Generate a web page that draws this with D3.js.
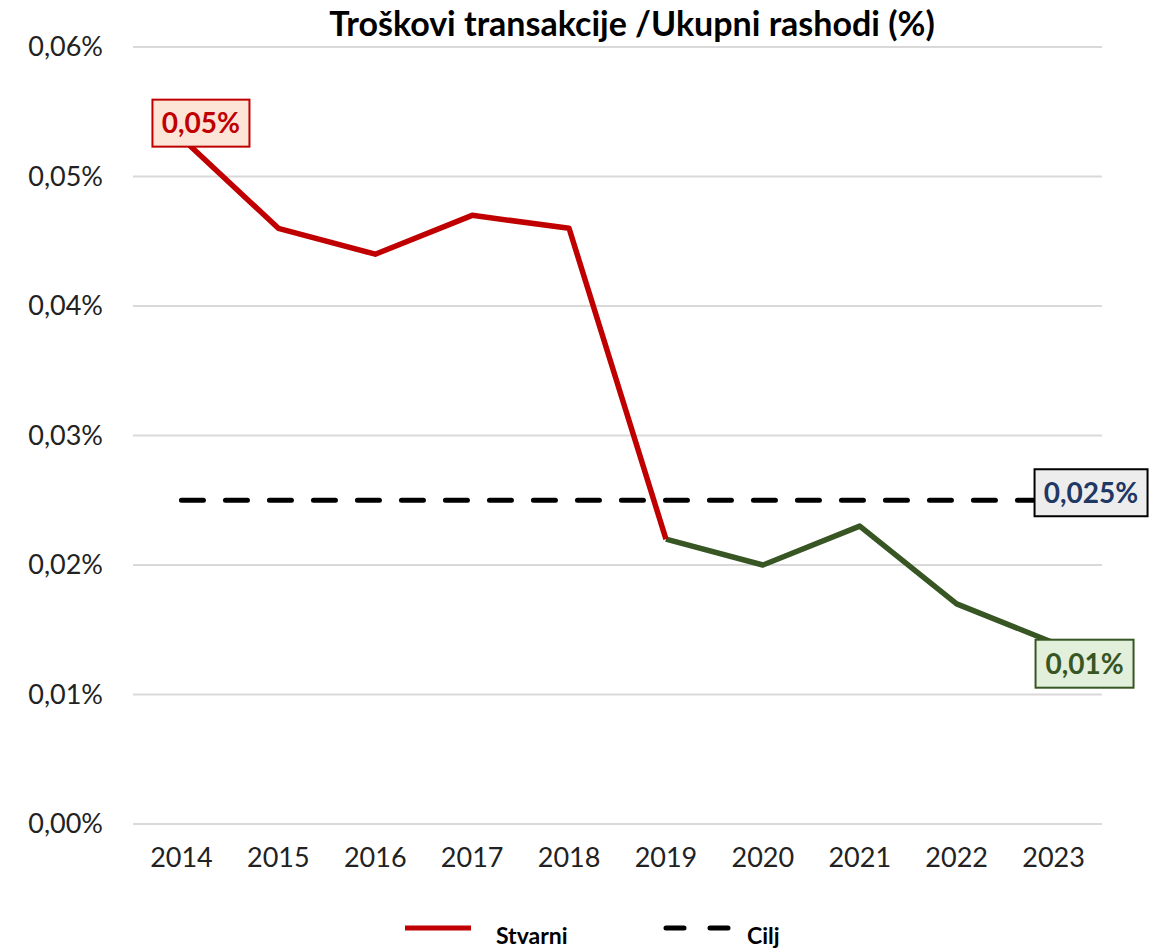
<!DOCTYPE html>
<html>
<head>
<meta charset="utf-8">
<script src="https://cdn.jsdelivr.net/npm/d3@7"></script>
<style>
  body { margin: 0; background: #fff; }
  text { font-family: Lato, "Open Sans", sans-serif; }
</style>
</head>
<body>
<div id="chart"></div>
<script>
var years = ['2014', '2015', '2016', '2017', '2018', '2019', '2020', '2021', '2022', '2023'];
var actual = [0.053, 0.046, 0.044, 0.047, 0.046, 0.022, 0.020, 0.023, 0.017, 0.014];
var target = [0.025, 0.025, 0.025, 0.025, 0.025, 0.025, 0.025, 0.025, 0.025, 0.025];
var yTicks = [0, 0.01, 0.02, 0.03, 0.04, 0.05, 0.06];
var splitIndex = 5; // red up to 2019, green after

var width = 1170, height = 949;
var margin = { top: 47, right: 68, bottom: 125, left: 133 };

var svg = d3.select('#chart').append('svg')
  .attr('width', width)
  .attr('height', height);

var x = d3.scaleBand()
  .domain(years)
  .range([margin.left, width - margin.right]);

var y = d3.scaleLinear()
  .domain([0, 0.06])
  .range([height - margin.bottom, margin.top]);

var fmt = function (d, digits) {
  return d.toFixed(digits).replace('.', ',') + '%';
};

// grid
svg.append('g')
  .selectAll('line')
  .data(yTicks)
  .enter().append('line')
  .attr('x1', margin.left)
  .attr('x2', width - margin.right)
  .attr('y1', function (d) { return y(d); })
  .attr('y2', function (d) { return y(d); })
  .attr('stroke', '#d9d9d9')
  .attr('stroke-width', 2);

// y axis
var gy = svg.append('g')
  .attr('transform', 'translate(' + margin.left + ',0)')
  .call(d3.axisLeft(y).tickValues(yTicks).tickSize(0).tickPadding(30)
    .tickFormat(function (d) { return fmt(d, 2); }));
gy.select('.domain').remove();
gy.selectAll('text')
  .style('font-size', '27px')
  .attr('fill', '#222');

// x axis
var gx = svg.append('g')
  .attr('transform', 'translate(0,' + (height - margin.bottom) + ')')
  .call(d3.axisBottom(x).tickSize(0).tickPadding(24));
gx.select('.domain').remove();
gx.selectAll('text')
  .style('font-size', '27px')
  .attr('fill', '#222');

// title
svg.append('text')
  .attr('x', 632)
  .attr('y', 36)
  .attr('text-anchor', 'middle')
  .style('font-size', '34px')
  .style('font-weight', 'bold')
  .attr('fill', '#000')
  .text('Troškovi transakcije /Ukupni rashodi (%)');

var cx = function (i) { return x(years[i]) + x.bandwidth() / 2; };

var line = d3.line()
  .x(function (d) { return cx(d.i); })
  .y(function (d) { return y(d.v); });

var pts = actual.map(function (v, i) { return { i: i, v: v }; });

// target dashed line
svg.append('path')
  .attr('d', line(target.map(function (v, i) { return { i: i, v: v }; })))
  .attr('fill', 'none')
  .attr('stroke', '#000')
  .attr('stroke-width', 5)
  .attr('stroke-dasharray', '22,22')
  .attr('stroke-linecap', 'round');

svg.append('path')
  .attr('d', line(pts.slice(splitIndex)))
  .attr('fill', 'none')
  .attr('stroke', '#375623')
  .attr('stroke-width', 5.5)
  .attr('stroke-linejoin', 'round');

svg.append('path')
  .attr('d', line(pts.slice(0, splitIndex + 1)))
  .attr('fill', 'none')
  .attr('stroke', '#c00000')
  .attr('stroke-width', 5.5)
  .attr('stroke-linejoin', 'round');

// labels
function boxLabel(txt, bx, by, w, h, fill, stroke, color) {
  var g = svg.append('g');
  g.append('rect')
    .attr('x', bx).attr('y', by)
    .attr('width', w).attr('height', h)
    .attr('fill', fill)
    .attr('stroke', stroke)
    .attr('stroke-width', 2);
  g.append('text')
    .attr('x', bx + w / 2)
    .attr('y', by + h / 2)
    .attr('dy', '0.36em')
    .attr('text-anchor', 'middle')
    .style('font-size', '28px')
    .style('font-weight', 'bold')
    .attr('fill', color)
    .text(txt);
}

boxLabel(fmt(0.05, 2), cx(0) - 29, y(actual[0]) - 38, 97, 47, '#fce4d6', '#c00000', '#c00000');
boxLabel(fmt(0.025, 3), cx(9) - 19, y(0.025) - 31, 113, 47, '#ededed', '#000', '#1f3864');
boxLabel(fmt(0.01, 2), cx(9) - 18, y(actual[9]) - 3, 98, 48, '#e2efda', '#375623', '#375623');

// legend
var lg = svg.append('g');
lg.append('line')
  .attr('x1', 405).attr('x2', 471)
  .attr('y1', 928).attr('y2', 928)
  .attr('stroke', '#c00000').attr('stroke-width', 5);
lg.append('text')
  .attr('x', 496).attr('y', 944)
  .style('font-size', '23px').style('font-weight', 'bold')
  .text('Stvarni');
lg.append('line')
  .attr('x1', 666).attr('x2', 730)
  .attr('y1', 928).attr('y2', 928)
  .attr('stroke', '#000').attr('stroke-width', 5)
  .attr('stroke-dasharray', '18,26')
  .attr('stroke-linecap', 'round');
lg.append('text')
  .attr('x', 747).attr('y', 944)
  .style('font-size', '23px').style('font-weight', 'bold')
  .text('Cilj');
</script>
</body>
</html>
